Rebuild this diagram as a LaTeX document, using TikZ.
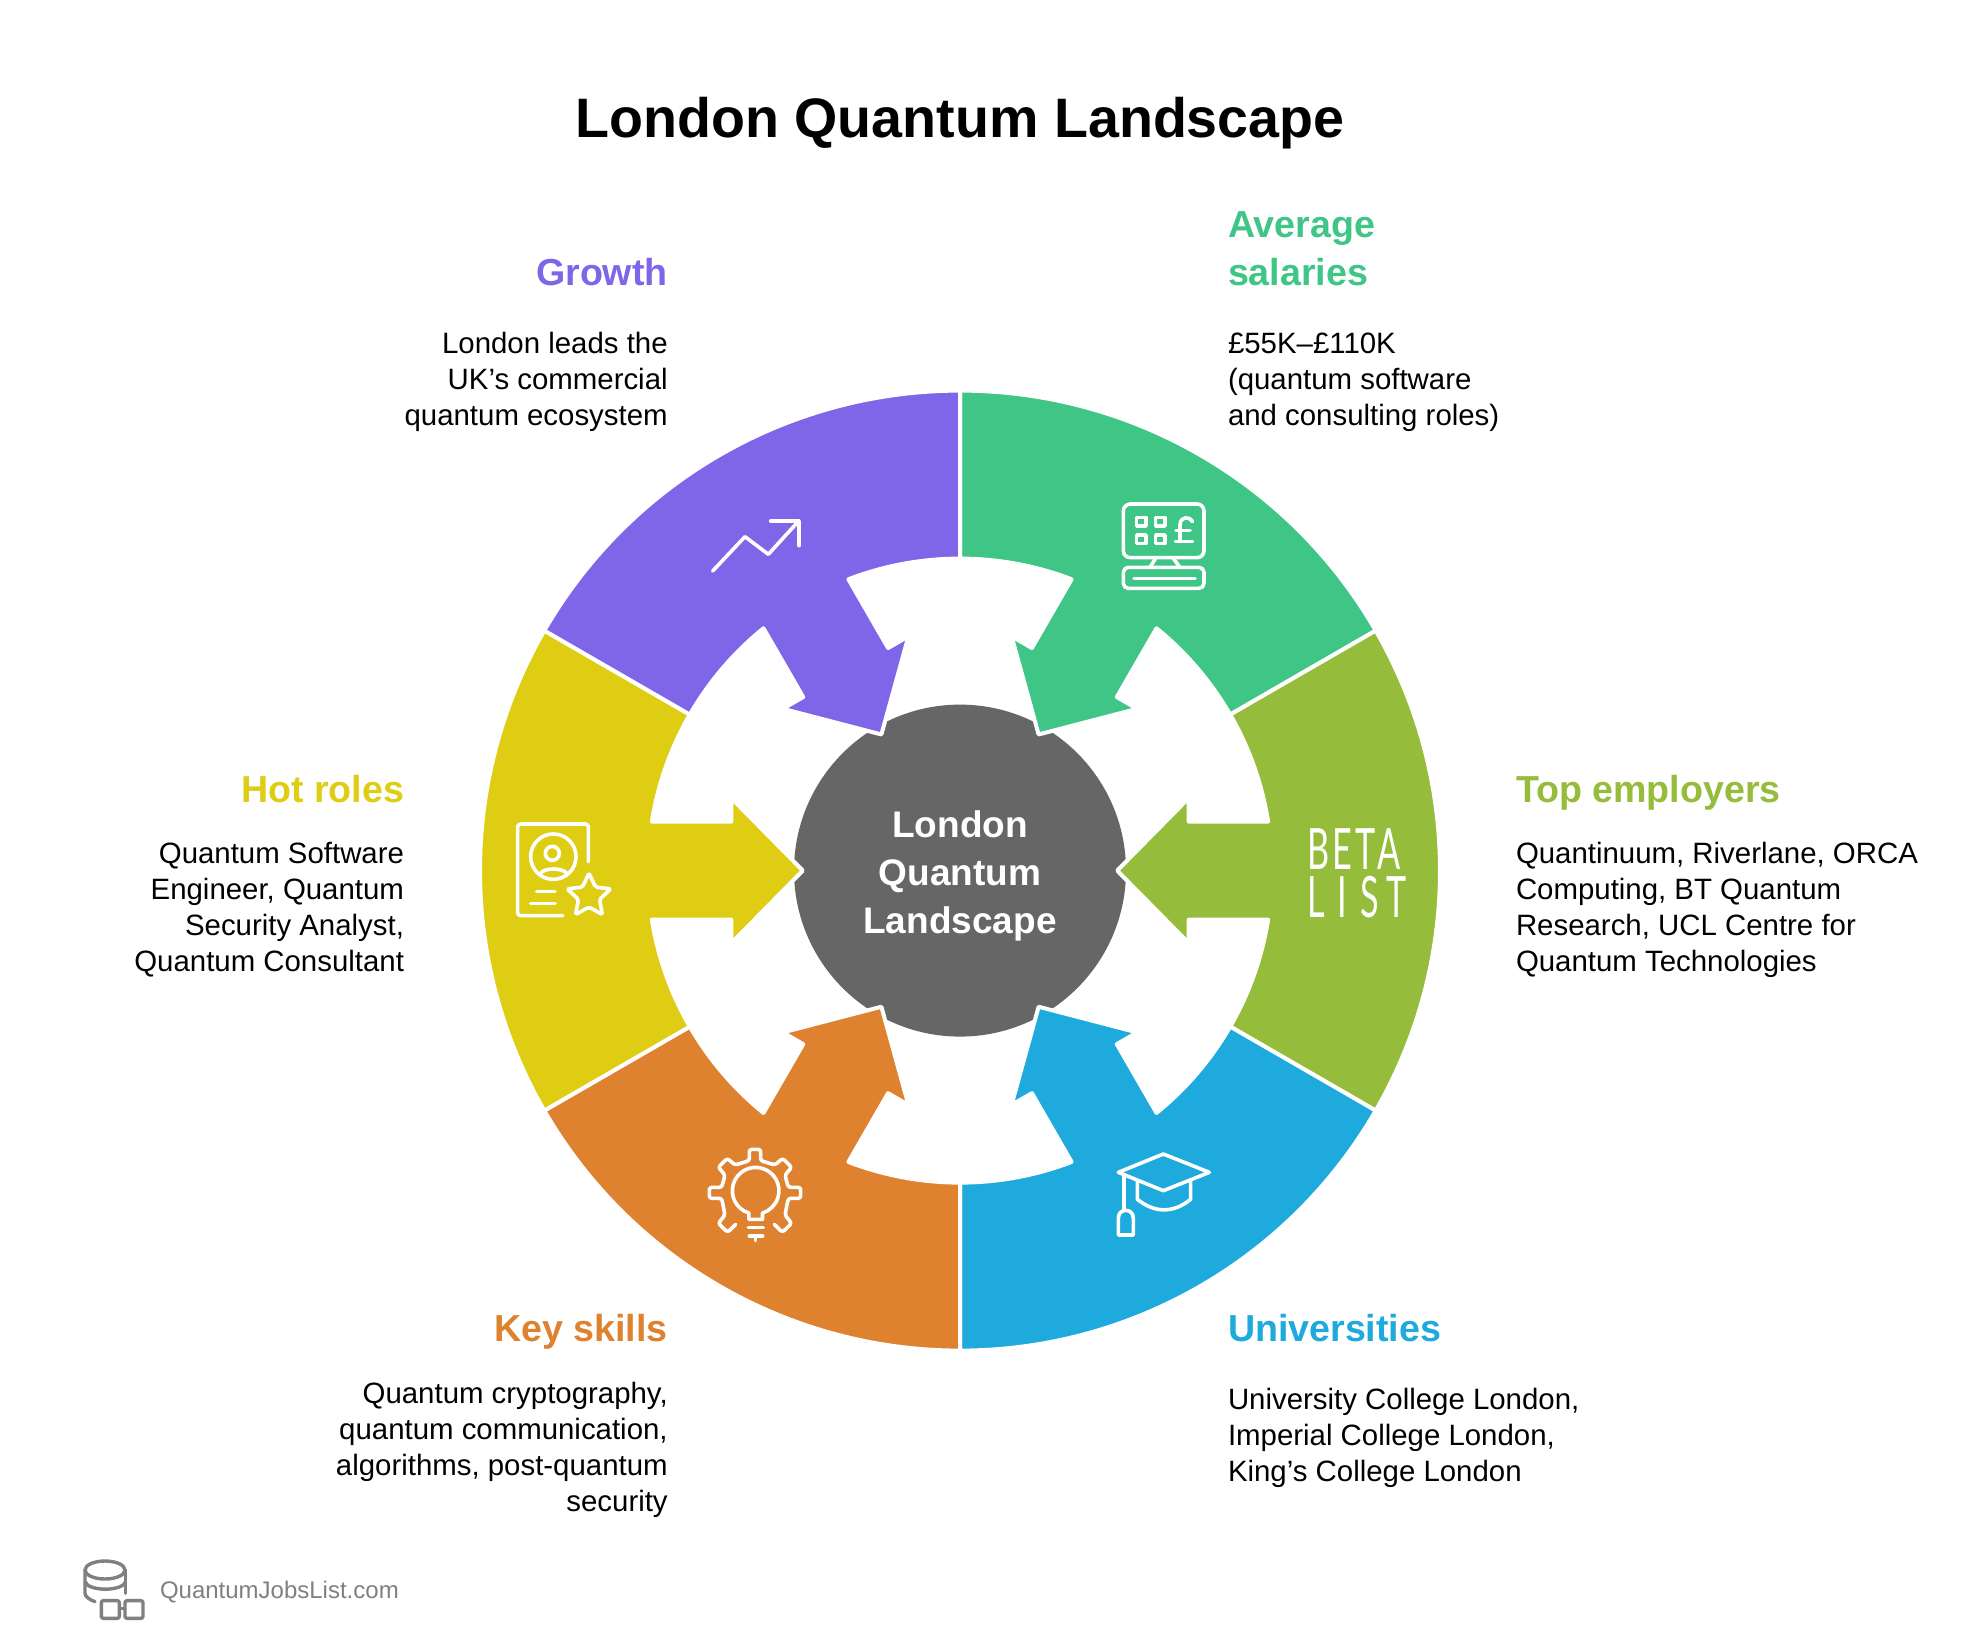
\documentclass[tikz,border=0pt]{standalone}
\usepackage{fontspec}
\setmainfont{Liberation Sans}
\newfontfamily\logofont{Lato}
\definecolor{cgreen}{HTML}{3FC586}
\definecolor{cpurple}{HTML}{7F66E8}
\definecolor{cyellow}{HTML}{DFCD14}
\definecolor{colive}{HTML}{95BC3A}
\definecolor{cblue}{HTML}{1EAADC}
\definecolor{corange}{HTML}{DF8230}
\definecolor{cgray}{HTML}{666666}
\definecolor{cfoot}{HTML}{808080}
\tikzset{
  every node/.style={inner sep=0pt,outer sep=0pt},
  titletxt/.style={font=\fontsize{55.6}{66}\selectfont\bfseries,anchor=base},
  headtxt/.style={font=\fontsize{37.6}{48}\selectfont\bfseries},
  bodytxt/.style={font=\fontsize{29.4}{36}\selectfont,text=black},
  centertxt/.style={font=\fontsize{37}{48}\selectfont\bfseries,text=white,align=center},
  sector/.style={draw=white,line width=4pt,line join=round},
  icon/.style={draw=white,line width=3.6pt,line cap=round,line join=round},
  footicon/.style={draw=cfoot,line width=3.4pt,line cap=round,line join=round},
  zoomat/.style={shift={#1},x=0.33333pt,y=-0.33333pt}
}
\newcommand{\ringsector}[2]{%
  \begin{scope}[shift={(960,-870.6)},rotate=#1]
    \fill[#2,sector] (-30:480) arc[start angle=-30,end angle=30,radius=480]
      -- (30:312) arc[start angle=30,end angle=9.04,radius=312]
      -- (228.7,49) -- (228.7,72.5) -- (157.2,0) -- (228.7,-72.5) -- (228.7,-49)
      -- (-9.04:312) arc[start angle=-9.04,end angle=-30,radius=312] -- cycle;
  \end{scope}}
\begin{document}
\begin{tikzpicture}[x=1pt,y=1pt]
\useasboundingbox (0,0) rectangle (1968,-1637);
\fill[white] (0,0) rectangle (1968,-1637);

\node[titletxt] (title) at (960,-137.5) {London Quantum Landscape};

\fill[cgray] (960,-870.6) circle[radius=166];
\ringsector{60}{cgreen}
\ringsector{0}{colive}
\ringsector{-60}{cblue}
\ringsector{-120}{corange}
\ringsector{180}{cyellow}
\ringsector{120}{cpurple}
\node[centertxt,anchor=center] (centre) at (960,-875.6) {London\\Quantum\\Landscape};

% Growth icon
\begin{scope}[zoomat={(690,-500)}]
  \draw[icon] (68,213) -- (165,110) -- (235,163) -- (327,62);
  \draw[icon] (242,63) -- (327,63) -- (327,137);
\end{scope}
% Monitor icon
\begin{scope}[zoomat={(1100,-490)}]
  \draw[icon,rounded corners=7pt] (70,42) rectangle (312,203);
  \draw[icon] (110,82) rectangle (138,108);
  \draw[icon] (167,82) rectangle (195,108);
  \draw[icon] (110,135) rectangle (138,160);
  \draw[icon] (167,135) rectangle (195,160);
  \draw[icon] (278,95) .. controls (270,78) and (240,78) .. (240,105) -- (240,155);
  \draw[icon] (226,155) -- (278,155);
  \draw[icon] (228,122) -- (270,122);
  \draw[icon] (150,232) -- (168,203);
  \draw[icon] (240,232) -- (218,203);
  \draw[icon,rounded corners=5pt] (70,232) rectangle (312,295);
  \draw[icon] (102,265) -- (285,265);
\end{scope}
% Logo
\node[text=white,align=left,anchor=north west,font=\logofont\fontsize{57}{48}\selectfont] (beta) at (1307,-828.5)
  {\scalebox{0.6}[1]{B\kern6pt E\kern5pt T\kern3pt A}\\\scalebox{0.6}[1]{L\kern22pt I\kern22pt S\kern12pt T}};
% Cap icon
\begin{scope}[zoomat={(1100,-1130)}]
  \draw[icon] (190,72) -- (328,127) -- (190,182) -- (55,127) -- cycle;
  \draw[icon] (72,135) -- (72,240);
  \draw[icon] (55,315) -- (55,265) .. controls (55,250) and (65,241) .. (77,241)
     .. controls (90,241) and (100,250) .. (100,265) -- (100,315) -- cycle;
  \draw[icon] (112,155) -- (112,208) .. controls (165,250) and (220,250) .. (272,208) -- (272,155);
\end{scope}
% Gear and bulb icon
\begin{scope}[zoomat={(690,-1130)}]
  \draw[icon,rounded corners=2.5pt] (137,283) -- (113,307) -- (85,280) -- (105,255) -- (95,205)
    -- (58,205) -- (58,172) -- (95,172) -- (105,135) -- (85,112) -- (112,85) -- (135,105)
    -- (178,92) -- (178,58) -- (212,58) -- (212,92) -- (255,105) -- (278,85) -- (305,112)
    -- (285,135) -- (295,172) -- (332,172) -- (332,205) -- (295,205) -- (285,255)
    -- (305,280) -- (277,307) -- (253,283);
  \draw[icon] (176.5,268) -- (176.5,249) arc[start angle=-107,delta angle=-326,radius=23.3pt] -- (217.5,268) -- cycle;
  \draw[icon] (175,292) -- (220,292);
  \draw[icon] (178,318) -- (218,318);
  \draw[icon] (197,318) -- (197,332);
\end{scope}
% Person and star icon
\begin{scope}[zoomat={(490,-800)}]
  \draw[icon,rounded corners=3pt] (295,185) -- (295,72) -- (83,72) -- (83,347) -- (218,347);
  \draw[icon] (190,170) circle[radius=22.7pt];
  \draw[icon] (187,160) circle[radius=7pt];
  \draw[icon] (150,222) .. controls (160,202) and (220,202) .. (232,222);
  \draw[icon] (140,275) -- (195,275);
  \draw[icon] (122,310) -- (195,310);
\end{scope}
\begin{scope}[shift={(589,-896)}]
  \draw[icon,rounded corners=2pt] (90:23) -- (54:11) -- (18:23) -- (-18:11) -- (-54:23)
    -- (-90:11) -- (-126:23) -- (-162:11) -- (162:23) -- (126:11) -- cycle;
\end{scope}

% Labels
\newcommand{\fs}{\strut}
\node[headtxt,text=cpurple,align=right,anchor=north east] (h1) at (667.7,-252.4) {\fs Growth};
\node[bodytxt,align=right,anchor=north east] (b1) at (667.7,-327.8) {\fs London leads the\\UK’s commercial\\quantum ecosystem};
\node[headtxt,text=cgreen,align=left,anchor=north west] (h2) at (1228,-204.4) {\fs Average\\salaries};
\node[bodytxt,align=left,anchor=north west] (b2) at (1228,-327.8) {\fs £55K–£110K\\(quantum software\\and consulting roles)};
\node[headtxt,text=colive,align=left,anchor=north west] (h3) at (1516,-768.4) {\fs Top employers};
\node[bodytxt,align=left,anchor=north west] (b3) at (1516,-838.3) {\fs Quantinuum, Riverlane, ORCA\\Computing, BT Quantum\\Research, UCL Centre for\\Quantum Technologies};
\node[headtxt,text=cblue,align=left,anchor=north west] (h4) at (1228,-1308.1) {\fs Universities};
\node[bodytxt,align=left,anchor=north west] (b4) at (1228,-1384.5) {\fs University College London,\\Imperial College London,\\King’s College London};
\node[headtxt,text=corange,align=right,anchor=north east] (h5) at (667.7,-1308.1) {\fs Key skills};
\node[bodytxt,align=right,anchor=north east] (b5) at (667.7,-1378.3) {\fs Quantum cryptography,\\quantum communication,\\algorithms, post-quantum\\security};
\node[headtxt,text=cyellow,align=right,anchor=north east] (h6) at (404,-768.4) {\fs Hot roles};
\node[bodytxt,align=right,anchor=north east] (b6) at (404,-838.3) {\fs Quantum Software\\Engineer, Quantum\\Security Analyst,\\Quantum Consultant};

% Footer
\begin{scope}[zoomat={(60,-1540)}]
  \draw[footicon] (135,90) ellipse[x radius=20pt,y radius=9pt];
  \draw[footicon] (75,90) -- (75,160) .. controls (75,170) and (90,180) .. (105,185);
  \draw[footicon] (197,90) -- (197,160);
  \draw[footicon] (75,125) .. controls (85,155) and (187,155) .. (197,125);
  \draw[footicon,rounded corners=2pt] (124,182) rectangle (178,235);
  \draw[footicon,rounded corners=2pt] (195,182) rectangle (249,235);
  \draw[footicon] (178,205) -- (195,205);
\end{scope}
\node[font=\fontsize{24}{28}\selectfont,text=cfoot,anchor=base west] (foot) at (160,-1598.5) {QuantumJobsList.com};
\end{tikzpicture}
\end{document}
